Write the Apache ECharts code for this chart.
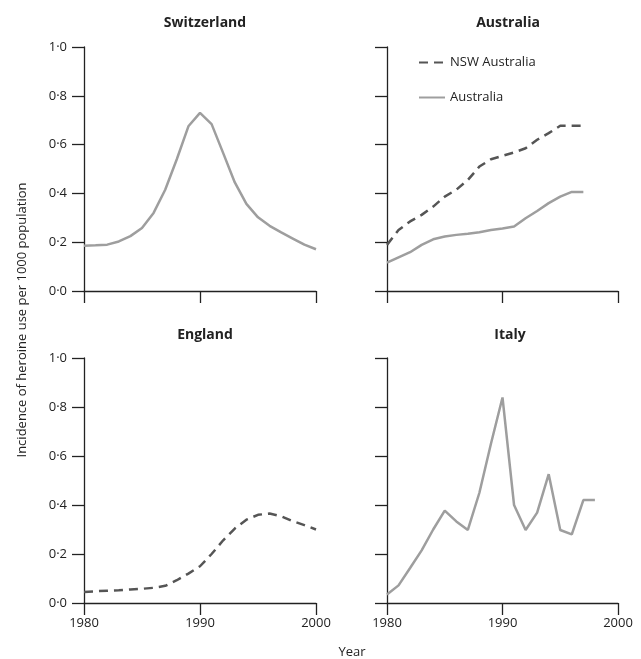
<!DOCTYPE html>
<html><head><meta charset="utf-8">
<script src="https://cdn.jsdelivr.net/npm/echarts@6/dist/echarts.min.js"></script>
<style>html,body{margin:0;padding:0;background:#fff}#c{width:641px;height:659px}</style>
</head><body><div id="c"></div>
<script>
var panelTitles = ['Switzerland', 'Australia', 'England', 'Italy'];
var xTicks = [1980, 1990, 2000];
var yTicks = [0, 0.2, 0.4, 0.6, 0.8, 1.0];

var swissYears = [1980,1981,1982,1983,1984,1985,1986,1987,1988,1989,1990,1991,1992,1993,1994,1995,1996,1997,1998,1999,2000];
var swissValues = [0.185,0.187,0.19,0.203,0.225,0.258,0.32,0.415,0.54,0.675,0.73,0.684,0.565,0.445,0.357,0.302,0.267,0.24,0.215,0.19,0.171];

var ausYears = [1980,1981,1982,1983,1984,1985,1986,1987,1988,1989,1990,1991,1992,1993,1994,1995,1996,1997];
var nswValues = [0.189,0.25,0.285,0.312,0.346,0.387,0.415,0.455,0.51,0.54,0.554,0.568,0.585,0.62,0.647,0.677,0.677,0.677];
var ausValues = [0.116,0.138,0.159,0.189,0.212,0.223,0.23,0.235,0.241,0.25,0.256,0.264,0.298,0.328,0.36,0.387,0.406,0.406];

var engYears = [1980,1981,1982,1983,1984,1985,1986,1987,1988,1989,1990,1991,1992,1993,1994,1995,1996,1997,1998,1999,2000];
var engValues = [0.045,0.048,0.05,0.052,0.055,0.058,0.062,0.07,0.093,0.12,0.15,0.2,0.256,0.304,0.34,0.36,0.365,0.354,0.334,0.318,0.30];

var italyYears = [1980,1981,1982,1983,1984,1985,1986,1987,1988,1989,1990,1991,1992,1993,1994,1995,1996,1997,1998];
var italyValues = [0.035,0.072,0.143,0.215,0.30,0.377,0.333,0.298,0.45,0.65,0.839,0.40,0.298,0.369,0.526,0.298,0.28,0.42,0.42];

function pairs(xs, ys){ return xs.map(function(x,i){ return [x, ys[i]]; }); }
var FONT = 'Open Sans';
var AX = '#222';
var LIGHT = '#9e9e9e';
var DARK = '#555555';

var grids = [
  {left:84, top:47, width:232, height:244},
  {left:387, top:47, width:231, height:244},
  {left:84, top:358, width:232, height:245},
  {left:387, top:358, width:231, height:245}
];
function xAxis(i, showLabel){
  return {type:'value', gridIndex:i, min:xTicks[0], max:xTicks[xTicks.length-1], interval:10,
    axisLine:{onZero:false, lineStyle:{color:AX, width:1.3}},
    axisTick:{show:true, length:12, inside:false, lineStyle:{color:AX, width:1.3}},
    axisLabel:{show:showLabel, color:'#222', fontFamily:FONT, fontSize:13, margin:14,
      formatter:function(v){ return String(v); }},
    splitLine:{show:false}};
}
function yAxis(i, showLabel){
  return {type:'value', gridIndex:i, min:yTicks[0], max:yTicks[yTicks.length-1], interval:0.2,
    axisLine:{show:true, lineStyle:{color:AX, width:1.3}},
    axisTick:{show:true, length:12, lineStyle:{color:AX, width:1.3}},
    axisLabel:{show:showLabel, color:'#222', fontFamily:FONT, fontSize:13, margin:17,
      formatter:function(v){ return v.toFixed(1).replace('.', '\u00b7'); }},
    splitLine:{show:false}};
}
function lineSeries(name, i, data, color, dashed){
  return {name:name, type:'line', xAxisIndex:i, yAxisIndex:i, data:data, symbol:'none', smooth:false,
    lineStyle:{color:color, width:2.5, type: dashed ? [9,6] : 'solid'}, itemStyle:{color:color}, silent:true, z:3};
}
var titleCenters = [[200,11],[503,11],[200,323],[505,323]];
var chart = echarts.init(document.getElementById('c'), null, {renderer:'canvas'});
chart.setOption({
  animation:false,
  backgroundColor:'#fff',
  title: panelTitles.map(function(t,i){
    return {text:t, left:titleCenters[i][0], top:titleCenters[i][1], textAlign:'center',
      textStyle:{fontFamily:FONT, fontSize:14, fontWeight:'bold', color:'#222'}};
  }),
  legend:{orient:'vertical', left:413, top:51, itemWidth:26, itemHeight:14, itemGap:22,
    data:['NSW Australia','Australia'], itemStyle:{opacity:0},
    textStyle:{fontFamily:FONT, fontSize:13, color:'#222'}, selectedMode:false},
  grid: grids,
  xAxis:[xAxis(0,false), xAxis(1,false), xAxis(2,true), xAxis(3,true)],
  yAxis:[yAxis(0,true), yAxis(1,false), yAxis(2,true), yAxis(3,false)],
  graphic:[
    {type:'text', x:22, y:320, rotation:Math.PI/2, style:{text:'Incidence of heroine use per 1000 population', fontFamily:FONT, fontSize:13, fill:'#222', align:'center', verticalAlign:'middle'}},
    {type:'text', x:352, y:652, style:{text:'Year', fontFamily:FONT, fontSize:13, fill:'#222', align:'center', verticalAlign:'middle'}}
  ],
  series:[
    lineSeries('Switzerland', 0, pairs(swissYears, swissValues), LIGHT, false),
    lineSeries('NSW Australia', 1, pairs(ausYears, nswValues), DARK, true),
    lineSeries('Australia', 1, pairs(ausYears, ausValues), LIGHT, false),
    lineSeries('England', 2, pairs(engYears, engValues), DARK, true),
    lineSeries('Italy', 3, pairs(italyYears, italyValues), LIGHT, false)
  ]
});
</script></body></html>
